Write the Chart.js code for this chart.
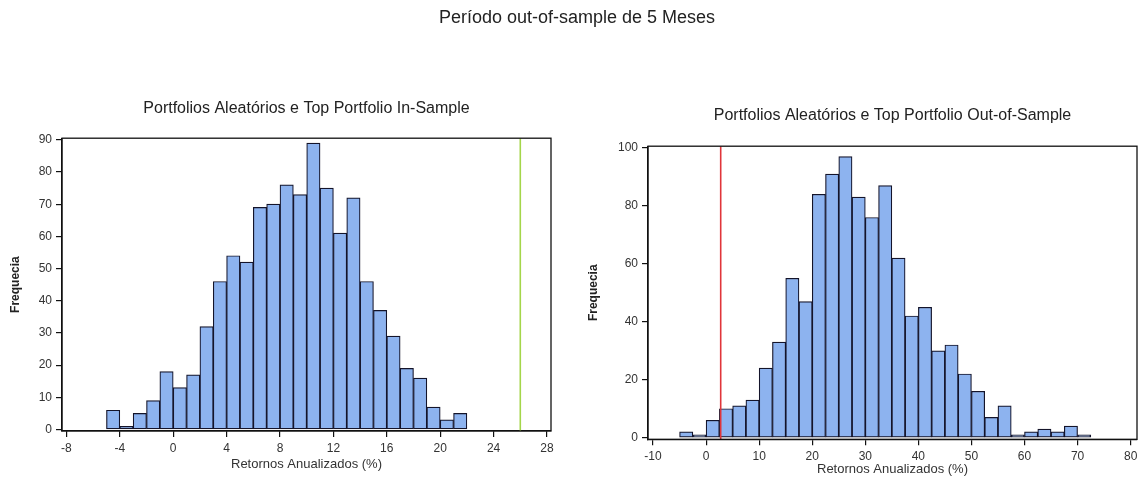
<!DOCTYPE html>
<html><head><meta charset="utf-8">
<script src="https://cdn.jsdelivr.net/npm/chart.js@4.4.0/dist/chart.umd.min.js"></script>
<style>
html,body{margin:0;padding:0;background:#fff;}
#wrap{position:relative;width:1147px;height:483px;overflow:hidden;font-family:"Liberation Sans",Arial,sans-serif;}
#main{position:absolute;left:0;top:7px;width:1154px;text-align:center;font-size:18px;line-height:20px;color:#222;}
#c1{position:absolute;left:0;top:0;}
#c2{position:absolute;left:573px;top:0;}
</style></head><body>
<div id="wrap">
<canvas id="c1" width="573" height="483"></canvas>
<canvas id="c2" width="574" height="483"></canvas>
<div id="main"></div>
</div>
<script>
// ---- texts ----
const mainTitle = 'Período out-of-sample de 5 Meses';
const inTitle = 'Portfolios Aleatórios e Top Portfolio In-Sample';
const outTitle = 'Portfolios Aleatórios e Top Portfolio Out-of-Sample';
const xAxisTitle = 'Retornos Anualizados (%)';
const yAxisTitle = 'Frequecia';

// ---- in-sample histogram (bin width 1) ----
const inBinCenters = [-4.5,-3.5,-2.5,-1.5,-0.5,0.5,1.5,2.5,3.5,4.5,5.5,6.5,7.5,8.5,9.5,10.5,11.5,12.5,13.5,14.5,15.5,16.5,17.5,18.5,19.5,20.5,21.5];
const inCounts = [6,1,5,9,18,13,17,32,46,54,52,69,70,76,73,89,75,61,72,46,37,29,19,16,7,3,5];
const inTopPortfolio = 26;
const inXTicks = [-8,-4,0,4,8,12,16,20,24,28];
const inYTicks = [0,10,20,30,40,50,60,70,80,90];

// ---- out-of-sample histogram (bin width 2.5) ----
const outBinCenters = [-3.75,-1.25,1.25,3.75,6.25,8.75,11.25,13.75,16.25,18.75,21.25,23.75,26.25,28.75,31.25,33.75,36.25,38.75,41.25,43.75,46.25,48.75,51.25,53.75,56.25,58.75,61.25,63.75,66.25,68.75,71.25];
const outCounts = [2,1,6,10,11,13,24,33,55,47,84,91,97,83,76,87,62,42,45,30,32,22,16,7,11,1,2,3,2,4,1];
const outTopPortfolio = 2.75;
const outXTicks = [-10,0,10,20,30,40,50,60,70,80];
const outYTicks = [0,20,40,60,80,100];

document.getElementById('main').textContent = mainTitle;

const FONT = '"Liberation Sans", Arial, sans-serif';
Chart.defaults.font.family = FONT;

const framePlugin = {
  id: 'frame',
  afterDatasetsDraw(chart) {
    const {ctx, chartArea: a} = chart;
    ctx.save();
    ctx.strokeStyle = '#111';
    ctx.lineWidth = 1.3;
    ctx.strokeRect(a.left, a.top, a.right - a.left, a.bottom - a.top);
    ctx.restore();
  }
};

function makeHist(canvasId, o) {
  const barData = o.centers.map((c, i) => ({x: c, y: o.counts[i]}));
  return new Chart(document.getElementById(canvasId), {
    type: 'bar',
    data: {
      datasets: [
        {
          type: 'line',
          data: [{x: o.top, y: o.yMin}, {x: o.top, y: o.yMax}],
          borderColor: o.lineColor,
          borderWidth: 1.6,
          pointRadius: 0,
          order: 0
        },
        {
          type: 'bar',
          data: barData,
          backgroundColor: '#8db3ef',
          borderColor: '#14142a',
          borderWidth: 1.2,
          borderSkipped: false,
          barPercentage: 1,
          categoryPercentage: 1,
          order: 1
        }
      ]
    },
    options: {
      responsive: false,
      animation: false,
      events: [],
      layout: {padding: {left: o.padL, right: o.padR, top: 0, bottom: 0}},
      plugins: {
        legend: {display: false},
        tooltip: {enabled: false},
        title: {
          display: true, text: o.title, fullSize: false, color: '#222',
          font: {size: 16, weight: 'normal'},
          padding: {top: o.titleTop, bottom: o.titleBottom}
        }
      },
      scales: {
        x: {
          type: 'linear', min: o.xMin, max: o.xMax, offset: false,
          afterBuildTicks: s => { s.ticks = o.xTicks.map(v => ({value: v})); },
          afterFit: s => { s.height = o.xH; },
          grid: {display: true, drawOnChartArea: false, drawTicks: true, tickLength: 6, color: '#111', lineWidth: 1.2, offset: false},
          border: {display: true, color: '#111', width: 1.3},
          ticks: {color: '#333', font: {size: 12}, padding: 4, maxRotation: 0, autoSkip: false},
          title: {display: true, text: xAxisTitle, color: '#333', font: {size: 13}, padding: {top: 0, bottom: o.xTitlePad}}
        },
        y: {
          type: 'linear', min: o.yMin, max: o.yMax,
          afterBuildTicks: s => { s.ticks = o.yTicks.map(v => ({value: v})); },
          afterFit: s => { s.width = o.yW; },
          grid: {display: true, drawOnChartArea: false, drawTicks: true, tickLength: 6, color: '#111', lineWidth: 1.2},
          border: {display: true, color: '#111', width: 1.3},
          ticks: {color: '#333', font: {size: 12}, padding: 4, autoSkip: false},
          title: {display: true, text: yAxisTitle, color: '#222', font: {size: 12, weight: 'bold'}, padding: {top: 0, bottom: 0}}
        }
      }
    },
    plugins: [framePlugin]
  });
}

makeHist('c1', {
  centers: inBinCenters, counts: inCounts, top: inTopPortfolio, lineColor: '#a4d64a',
  title: inTitle, xTicks: inXTicks, yTicks: inYTicks,
  xMin: -8.33, xMax: 28.3, yMin: -0.45, yMax: 90.5,
  padL: 8.4, padR: 22, yW: 53.6, xH: 52, xTitlePad: 11,
  titleTop: 99, titleBottom: 20
});

makeHist('c2', {
  centers: outBinCenters, counts: outCounts, top: outTopPortfolio, lineColor: '#e0353a',
  title: outTitle, xTicks: outXTicks, yTicks: outYTicks,
  xMin: -10.95, xMax: 81.2, yMin: -0.55, yMax: 100.6,
  padL: 13.4, padR: 10, yW: 61.6, xH: 43.7, xTitlePad: 6,
  titleTop: 106, titleBottom: 21
});
</script>
</body></html>
